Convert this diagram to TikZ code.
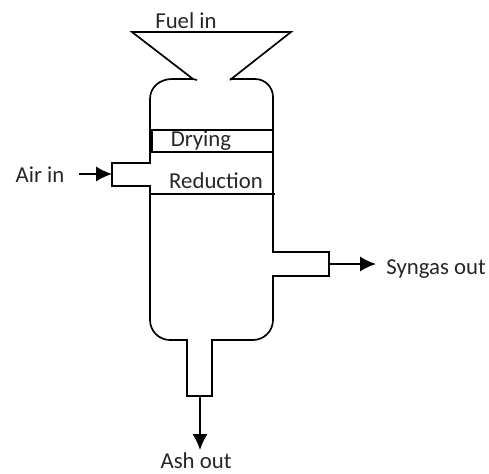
\documentclass[tikz,border=0pt]{standalone}
\usepackage{fontspec}
\setmainfont{Carlito}
\usetikzlibrary{positioning}
\usetikzlibrary{arrows.meta}
\tikzset{every picture/.style={line width=1.2pt}}
\tikzset{flowarrow/.style={-{Latex[length=4mm,width=3.8mm]}}}
\tikzset{lbl/.style={font=\fontsize{16.2}{19}\selectfont,inner sep=0pt,text=black!85}}
\begin{document}
\begin{tikzpicture}[x=0.25mm,y=-0.25mm]
\useasboundingbox (0,0) rectangle (489,474);
% hopper and vessel walls
\draw (197,80) -- (193,79) -- (132,32) -- (291,32) -- (230,80);
\draw (193,79) -- (172,79) .. controls (160,79) and (150,87) .. (150,99) -- (150,163) -- (112,163) -- (112,186) -- (150,186) -- (150,320) .. controls (150,331) and (159,340) .. (170,340) -- (187,340) -- (187,396) -- (212,396) -- (212,340) -- (253,340) .. controls (264,340) and (273,331) .. (273,320) -- (273,276) -- (329,276) -- (329,252) -- (273,252) -- (273,97) .. controls (273,87) and (265,79) .. (255,79) -- (230,79);
% zones
\draw (150,130) -- (273,130);
\draw (150,152) -- (273,152);
\draw (150,194) -- (275,194);
\draw[line width=2pt] (152,130) -- (152,152);
\node[lbl] (fuel) at (186,21) {Fuel in};
\node[lbl] (drying) at (201,141) {Drying};
\node[lbl] (reduction) at (216,181) {Reduction};
\node[lbl] (air) at (40,175) {Air in};
\node[lbl] (syngas) at (436,269) {Syngas out};
\node[lbl] (ash) at (196,461) {Ash out};
\coordinate (airstart) at (79,174);
\coordinate (airend) at (112,174);
\coordinate (synstart) at (329,264);
\coordinate (synend) at (376,264);
\coordinate (ashstart) at (200,396);
\coordinate (ashend) at (200,450);
\draw[flowarrow] (airstart) -- (airend);
\draw[flowarrow] (synstart) -- (synend);
\draw[flowarrow] (ashstart) -- (ashend);
\end{tikzpicture}
\end{document}
